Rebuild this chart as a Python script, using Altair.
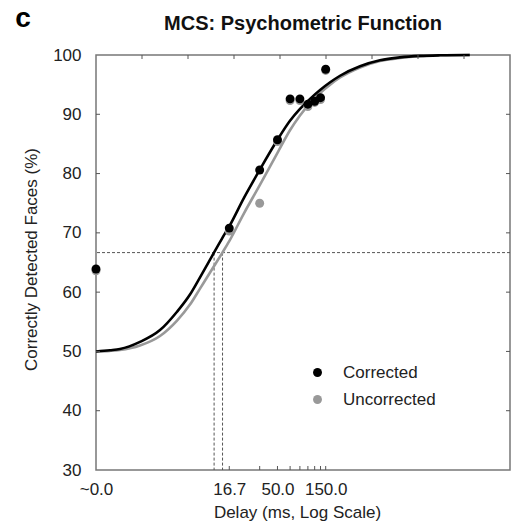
import altair as alt
import pandas as pd

# ---------------- data ----------------
series_names = ["Corrected", "Uncorrected"]
series_colors = ["#000000", "#999999"]

point_delay = [0.8, 16.67, 33.33, 50.0, 66.67, 83.33, 100.0, 116.67, 133.33, 150.0]
corrected = [63.9, 70.8, 80.6, 85.7, 92.6, 92.6, 91.7, 92.2, 92.8, 97.6]
uncorrected = [63.6, 70.3, 75.0, 85.4, 92.3, 92.3, 91.3, 92.0, 92.5, 97.4]

curve_delay = [0.8, 1.1, 1.38, 2.18, 3.44, 5.07, 6.81, 8.56, 11.8, 14.3, 16.67, 23.3,
               33.3, 50.0, 66.5, 83.5, 105.0, 132.0, 166.0, 208.0, 328.0, 517.0,
               816.0, 1286.0, 2030.0, 4000.0]
curve_corrected = [50.0, 50.2, 50.4, 51.6, 53.6, 56.7, 59.6, 62.5, 66.7, 69.2, 71.1, 75.9,
                   80.6, 85.7, 88.9, 90.9, 92.6, 94.1, 95.4, 96.5, 98.1, 99.1,
                   99.6, 99.85, 99.95, 100.0]
curve_uncorrected = [50.0, 50.1, 50.25, 51.0, 52.6, 55.2, 57.9, 60.6, 64.4, 66.7, 68.6, 73.3,
                     78.0, 83.5, 87.3, 89.8, 91.9, 93.6, 95.0, 96.2, 97.9, 99.0,
                     99.5, 99.8, 99.95, 100.0]

threshold_level = 66.67
threshold_delay = [11.8, 14.3]

x_domain = [0.8, 10000.0]
x_tick_values = [0.8, 16.67, 50.0, 150.0]
x_tick_labels = ["~0.0", "16.7", "50.0", "150.0"]
x_minor_ticks = [16.67, 33.33, 50.0, 66.67, 83.33, 100.0, 116.67, 133.33, 150.0]
top_tick_index = [1, 2, 3, 4, 5, 6, 7, 8]
y_domain = [30, 100]
y_tick_values = [30, 40, 50, 60, 70, 80, 90, 100]
y_inner_ticks = [40, 50, 60, 70, 80, 90]

FONT = "Liberation Sans"
W, H = 414, 415

# ---------------- tables ----------------
pts = pd.concat([
    pd.DataFrame({"delay": point_delay, "pct": uncorrected, "series": series_names[1]}),
    pd.DataFrame({"delay": point_delay, "pct": corrected, "series": series_names[0]}),
], ignore_index=True)
cur_c = pd.DataFrame({"delay": curve_delay, "pct": curve_corrected})
cur_u = pd.DataFrame({"delay": curve_delay, "pct": curve_uncorrected})
thr_h = pd.DataFrame({"level": [threshold_level]})
thr_v = pd.DataFrame({"delay": threshold_delay, "level": threshold_level, "floor": y_domain[0]})
xt = pd.DataFrame({"delay": x_minor_ticks})
yt = pd.DataFrame({"pct": y_inner_ticks})
tt = pd.DataFrame({"k": top_tick_index})

xs = alt.Scale(type="log", domain=x_domain, nice=False)
ys = alt.Scale(domain=y_domain, nice=False, zero=False)

label_expr = ""
for v, l in zip(x_tick_values, x_tick_labels):
    label_expr += f"datum.value == {v} ? '{l}' : "
label_expr += "''"

x_axis = alt.Axis(values=x_tick_values, labelExpr=label_expr, ticks=False, domain=False,
                  grid=False, labelPadding=11, labelFontSize=17, labelColor="#222",
                  labelFont=FONT, title="Delay (ms, Log Scale)", titleFont=FONT,
                  titleFontSize=17, titleFontWeight="normal", titleColor="#222",
                  titleX=201, titleY=47, titleBaseline="alphabetic", labelFlush=False,
                  labelOverlap=False)
y_axis = alt.Axis(values=y_tick_values, ticks=False, domain=False, grid=False,
                  labelPadding=15, labelFontSize=17, labelColor="#222", labelFont=FONT,
                  title="Correctly Detected Faces (%)", titleFont=FONT, titleFontSize=17,
                  titleFontWeight="normal", titleColor="#222", titleX=-60, titleY=204,
                  titleBaseline="alphabetic", labelFlush=False, labelOverlap=False)

base_x = alt.X("delay:Q", scale=xs, axis=x_axis)
base_y = alt.Y("pct:Q", scale=ys, axis=y_axis)

hline = alt.Chart(thr_h).mark_rule(color="#555", strokeDash=[3, 2], strokeWidth=1).encode(
    y=alt.Y("level:Q", scale=ys))
vlines = alt.Chart(thr_v).mark_rule(color="#555", strokeDash=[3, 2], strokeWidth=1).encode(
    x=alt.X("delay:Q", scale=xs), y=alt.Y("level:Q", scale=ys), y2="floor:Q")

line_u = alt.Chart(cur_u).mark_line(color=series_colors[1], strokeWidth=2.6,
                                    interpolate="monotone").encode(x=base_x, y=base_y)
line_c = alt.Chart(cur_c).mark_line(color=series_colors[0], strokeWidth=2.6,
                                    interpolate="monotone").encode(
    x=alt.X("delay:Q", scale=xs), y=alt.Y("pct:Q", scale=ys))

points = alt.Chart(pts).mark_point(filled=True, size=80, opacity=1).encode(
    x=alt.X("delay:Q", scale=xs),
    y=alt.Y("pct:Q", scale=ys),
    color=alt.Color("series:N", scale=alt.Scale(domain=series_names, range=series_colors),
                    sort=series_names,
                    legend=alt.Legend(title=None, orient="none", legendX=213, legendY=309,
                                      symbolType="circle", symbolSize=80, labelFontSize=17,
                                      labelFont=FONT, labelColor="#222", labelOffset=17,
                                      rowPadding=9, padding=0, symbolStrokeWidth=0)),
)

tick_col = "#555"
bottom_ticks = alt.Chart(xt).mark_rule(color=tick_col, strokeWidth=1).encode(
    x=alt.X("delay:Q", scale=xs), y=alt.value(H), y2=alt.value(H - 4))
left_ticks = alt.Chart(yt).mark_rule(color=tick_col, strokeWidth=1).encode(
    y=alt.Y("pct:Q", scale=ys), x=alt.value(0), x2=alt.value(4))
right_ticks = alt.Chart(yt).mark_rule(color=tick_col, strokeWidth=1).encode(
    y=alt.Y("pct:Q", scale=ys), x=alt.value(W), x2=alt.value(W - 4))
top_ticks = alt.Chart(tt).mark_rule(color=tick_col, strokeWidth=1).encode(
    x=alt.X("k:Q", scale=alt.Scale(domain=[0, 9], nice=False, zero=False), axis=None),
    y=alt.value(0), y2=alt.value(4))

panel = alt.Chart(pd.DataFrame({"t": ["c"]})).mark_text(
    font=FONT, fontSize=28, fontWeight="bold", align="center", baseline="alphabetic",
    color="#000").encode(text="t:N", x=alt.value(-73), y=alt.value(-28))
title = alt.Chart(pd.DataFrame({"t": ["MCS: Psychometric Function"]})).mark_text(
    font=FONT, fontSize=20, fontWeight="bold", align="center", baseline="alphabetic",
    color="#111").encode(text="t:N", x=alt.value(207), y=alt.value(-25))

main = alt.layer(hline, vlines, line_u, line_c, points, bottom_ticks, left_ticks,
                 right_ticks, panel, title)

chart = alt.layer(main, top_ticks).resolve_scale(x="independent").properties(
    width=W, height=H,
    autosize=alt.AutoSizeParams(type="none"),
    padding={"left": 96, "top": 55, "right": 1, "bottom": 57},
    background="white",
).configure_view(stroke="#777", strokeWidth=1.5)

chart.save("out.html", embed_options={"renderer": "svg", "actions": False})
